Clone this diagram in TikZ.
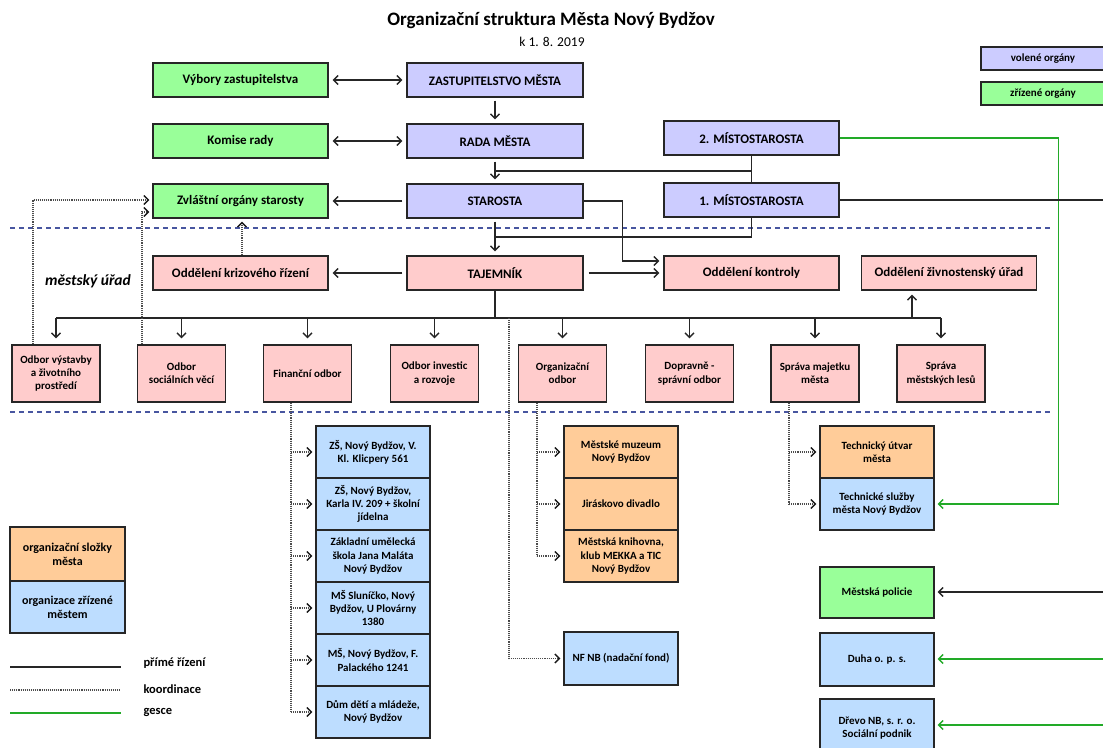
\documentclass[tikz,border=0pt]{standalone}
\usepackage{fontspec}
\setmainfont{Carlito}
\usetikzlibrary{arrows.meta,calc}
\definecolor{cpurple}{RGB}{204,204,255}
\definecolor{cgreen}{RGB}{153,255,153}
\definecolor{cpink}{RGB}{255,204,204}
\definecolor{corange}{RGB}{255,204,153}
\definecolor{cblue}{RGB}{189,221,255}
\definecolor{gline}{RGB}{34,170,40}
\definecolor{dblue}{RGB}{72,86,160}
\begin{document}
\begin{tikzpicture}[x=1pt,y=-1pt,
  box/.style={draw=black!85, line width=1.4pt, align=center, inner sep=1pt, font=\bfseries\fontsize{11}{13.3}\selectfont},
  bigbox/.style={box, minimum width=176pt, minimum height=34pt, font=\bfseries\fontsize{13}{15}\selectfont},
  odbox/.style={box, fill=cpink, minimum width=88pt, minimum height=57pt},
  stbox/.style={box, minimum width=114pt, minimum height=52pt},
  lgbox/.style={box, minimum width=124pt, minimum height=23pt},
  conn/.style={line width=1.3pt, draw=black!85},
  arr/.style={conn, -{Straight Barb[length=4.5pt,width=9pt]}, shorten >=4pt},
  darr/.style={conn, {Straight Barb[length=4.5pt,width=9pt]}-{Straight Barb[length=4.5pt,width=9pt]}, shorten >=4pt, shorten <=4pt},
  dotl/.style={line width=1.2pt, draw=black!70, dash pattern=on 1.1pt off 1pt},
  dotarr/.style={dotl, -{Straight Barb[length=4.5pt,width=9pt,line width=1.3pt,black!90]}, shorten >=3pt},
  gl/.style={line width=1.4pt, draw=gline},
  garr/.style={gl, -{Straight Barb[length=4.5pt,width=9pt]}, shorten >=3pt},
  dashblue/.style={line width=1.3pt, draw=dblue, dash pattern=on 5pt off 4pt}
]
\useasboundingbox (0,0) rectangle (1103,747);

% title
\node[font=\bfseries\fontsize{19}{22}\selectfont] (title) at (551,20) {Organizační struktura Města Nový Bydžov};
\node[font=\fontsize{13.5}{16}\selectfont] (sub) at (552,42) {k 1. 8. 2019};

% legend top right
\node[lgbox, fill=cpurple] (lv) at (1043,58.5) {volené orgány};
\node[lgbox, fill=cgreen] (lz) at (1043,93.5) {zřízené orgány};

% dashed separators
\draw[dashblue] (10,228) -- (1053,228);
\draw[dashblue] (10,412) -- (1053,412);

% top rows
\node[bigbox, fill=cgreen, minimum width=175pt] (vybory) at (240.5,80) {Výbory zastupitelstva};
\node[bigbox, fill=cpurple] (zast) at (495,80) {ZASTUPITELSTVO MĚSTA};
\node[bigbox, fill=cgreen, minimum width=175pt] (komise) at (240.5,141) {Komise rady};
\node[bigbox, fill=cpurple] (rada) at (495,141) {RADA MĚSTA};
\node[bigbox, fill=cpurple, minimum width=175pt] (mist2) at (751.5,138) {2. MÍSTOSTAROSTA};
\node[bigbox, fill=cgreen, minimum width=175pt] (zvl) at (240.5,201) {Zvláštní orgány starosty};
\node[bigbox, fill=cpurple] (star) at (495,201) {STAROSTA};
\node[bigbox, fill=cpurple, minimum width=175pt] (mist1) at (751.5,200) {1. MÍSTOSTAROSTA};

\node[font=\bfseries\itshape\fontsize{15.5}{18}\selectfont] (mu) at (88,281) {městský úřad};

\node[bigbox, fill=cpink, minimum width=175pt] (krize) at (240.5,273) {Oddělení krizového řízení};
\node[bigbox, fill=cpink] (taj) at (495,273) {TAJEMNÍK};
\node[bigbox, fill=cpink, minimum width=175pt] (kontr) at (751.5,273) {Oddělení kontroly};
\node[bigbox, fill=cpink, minimum width=175pt] (zivn) at (949,273) {Oddělení živnostenský úřad};

% odbory
\node[odbox] (ov) at (56,373.5) {Odbor výstavby\\a životního\\prostředí};
\node[odbox] (os) at (181.5,373.5) {Odbor\\sociálních věcí};
\node[odbox] (fo) at (307.5,373.5) {Finanční odbor};
\node[odbox] (oi) at (434.5,373.5) {Odbor investic\\a rozvoje};
\node[odbox] (oo) at (562.5,373.5) {Organizační\\odbor};
\node[odbox] (do) at (689.5,373.5) {Dopravně -\\správní odbor};
\node[odbox] (sm) at (815,373.5) {Správa majetku\\města};
\node[odbox] (sl) at (941,373.5) {Správa\\městských lesů};

% financni stack
\node[stbox, fill=cblue] (s1) at (373,452) {ZŠ, Nový Bydžov, V.\\Kl. Klicpery 561};
\node[stbox, fill=cblue] (s2) at (373,504) {ZŠ, Nový Bydžov,\\Karla IV. 209 + školní\\jídelna};
\node[stbox, fill=cblue] (s3) at (373,556) {Základní umělecká\\škola Jana Maláta\\Nový Bydžov};
\node[stbox, fill=cblue] (s4) at (373,608) {MŠ Sluníčko, Nový\\Bydžov, U Plovárny\\1380};
\node[stbox, fill=cblue] (s5) at (373,660) {MŠ, Nový Bydžov, F.\\Palackého 1241};
\node[stbox, fill=cblue] (s6) at (373,712) {Dům dětí a mládeže,\\Nový Bydžov};

% organizacni stack
\node[stbox, fill=corange] (o1) at (621,452) {Městské muzeum\\Nový Bydžov};
\node[stbox, fill=corange] (o2) at (621,504) {Jiráskovo divadlo};
\node[stbox, fill=corange] (o3) at (621,556) {Městská knihovna,\\klub MEKKA a TIC\\Nový Bydžov};
\node[stbox, fill=cblue, minimum height=53pt] (nf) at (621,658.5) {NF NB (nadační fond)};

% right column
\node[stbox, fill=corange] (t1) at (877,452) {Technický útvar\\města};
\node[stbox, fill=cblue] (t2) at (877,504) {Technické služby\\města Nový Bydžov};
\node[stbox, fill=cgreen, minimum height=51pt] (pol) at (877,592.5) {Městská policie};
\node[stbox, fill=cblue, minimum height=53pt] (duha) at (877,659.5) {Duha o. p. s.};
\node[stbox, fill=cblue, minimum height=58pt] (drevo) at (877,728) {Dřevo NB, s. r. o.\\Sociální podnik};

% legend bottom left
\node[box, fill=corange, minimum width=115pt, minimum height=54pt, font=\bfseries\fontsize{12}{14}\selectfont] (lo) at (67.5,554) {organizační složky\\města};
\node[box, fill=cblue, minimum width=115pt, minimum height=52pt, font=\bfseries\fontsize{12}{14}\selectfont] (lb) at (67.5,607) {organizace zřízené\\městem};
\coordinate (la1) at (10,667); \coordinate (lb1) at (121,667);
\coordinate (la2) at (10,690); \coordinate (lb2) at (121,690);
\coordinate (la3) at (10,713); \coordinate (lb3) at (121,713);
\draw[conn] (la1) -- (lb1);
\draw[dotl] (la2) -- (lb2);
\draw[gl] (la3) -- (lb3);
\node[anchor=west, font=\bfseries\fontsize{12.5}{15}\selectfont] (lt1) at (140,663) {přímé řízení};
\node[anchor=west, font=\bfseries\fontsize{12.5}{15}\selectfont] (lt2) at (140,689) {koordinace};
\node[anchor=west, font=\bfseries\fontsize{12.5}{15}\selectfont] (lt3) at (140,712) {gesce};

% connectors top
\draw[darr] (vybory) -- (zast);
\draw[darr] (komise) -- (rada);
\draw[arr, shorten <=4pt] (star) -- (zvl);
\draw[arr, shorten <=3pt] (zast) -- (rada);
\draw[arr, shorten <=3pt] (rada) -- (star);
\coordinate (j1) at ($(rada.south)!0.5!(star.north)$);
\draw[conn] (mist2.south) -- (mist1.north);
\draw[conn] (j1) -- (j1 -| mist2.south);
\draw[arr, shorten <=3pt] (star) -- (taj);
\coordinate (j2) at ($(star.south)!0.5!(taj.north)$);
\draw[conn] (mist1.south) |- (j2);
\draw[arr] (star.east) -- ++(39,0) |- ([yshift=12pt]kontr.west);
\draw[arr, shorten <=5pt] (taj) -- (kontr);
\draw[arr, shorten <=4pt] (taj) -- (krize);

% bus
\coordinate (bus) at (495,318);
\draw[conn] (taj.south) -- (bus);
\draw[conn] (ov.north |- bus) -- (sl.north |- bus);
\foreach \n in {ov,os,fo,oi,oo,do,sm,sl} {\draw[arr, shorten >=6pt] (\n.north |- bus) -- (\n.north);}
\draw[arr] ([xshift=-37pt]zivn.south |- bus) -- ([xshift=-37pt]zivn.south);

% dotted coordination
\draw[dotarr] ([xshift=-23pt]ov.north) |- ([yshift=1pt]zvl.west);
\draw[dotarr] ([xshift=-39.5pt]os.north) |- ([yshift=-11pt]zvl.west);
\draw[dotarr] ([xshift=1.5pt]krize.north) -- ([xshift=1.5pt]zvl.south);
\draw[dotarr] ([xshift=14pt]bus) |- (nf.west);
\draw[dotl] ([xshift=-16.5pt]fo.south) -- ([xshift=-16.5pt]fo.south |- s6.west);
\foreach \n in {s1,s2,s3,s4,s5,s6} {\draw[dotarr] ([xshift=-16.5pt]fo.south |- \n.west) -- (\n.west);}
\draw[dotl] ([xshift=-25.5pt]oo.south) -- ([xshift=-25.5pt]oo.south |- o3.west);
\foreach \n in {o1,o2,o3} {\draw[dotarr] ([xshift=-25.5pt]oo.south |- \n.west) -- (\n.west);}
\draw[dotl] ([xshift=-26pt]sm.south) -- ([xshift=-26pt]sm.south |- t2.west);
\foreach \n in {t1,t2} {\draw[dotarr] ([xshift=-26pt]sm.south |- \n.west) -- (\n.west);}

% right side
\coordinate (edge) at (1108,0);
\draw[garr] (mist2.east) -- ++(219,0) |- (t2.east);
\draw[conn] (mist1.east) -- (mist1.east -| edge);
\draw[arr, shorten >=3pt] ([yshift=0.5pt]pol.east -| edge) -- ([yshift=0.5pt]pol.east);
\draw[garr] ([yshift=0.5pt]duha.east -| edge) -- ([yshift=0.5pt]duha.east);
\draw[garr] ([yshift=3pt]drevo.east -| edge) -- ([yshift=3pt]drevo.east);
\end{tikzpicture}
\end{document}
